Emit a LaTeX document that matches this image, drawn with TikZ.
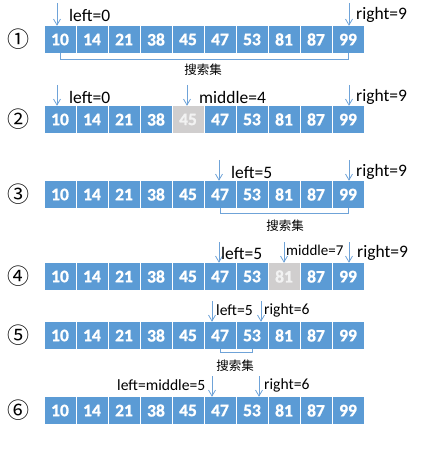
\documentclass[tikz,border=0pt]{standalone}
\usepackage{fontspec}
\setmainfont{Carlito}[BoldFont={Carlito Bold}]
\newfontfamily\cjk{Noto Sans CJK SC}
\newfontfamily\cellfont{Carlito Bold}[FakeBold=1.2]
\usetikzlibrary{arrows.meta}
\definecolor{cellblue}{HTML}{5B9BD5}
\definecolor{cellgray}{HTML}{D0CECE}
\definecolor{ptrblue}{HTML}{6FA3D8}
\begin{document}
\begin{tikzpicture}[x=1pt,y=-1pt,
  cell/.style={draw=none,fill=cellblue,minimum width=31pt,minimum height=27pt,inner sep=0pt,
    text=white,font=\cellfont\fontsize{17.5}{17.5}\selectfont},
  graycell/.style={cell,fill=cellgray,text=white!95!black},
  ptr/.style={draw=ptrblue,line width=0.8pt,-{Straight Barb[length=6pt,width=7pt]}},
  brk/.style={draw=ptrblue,line width=0.8pt},
  lbl/.style={anchor=west,inner sep=0pt,font=\fontsize{17.5}{17.5}\selectfont},
  lbls/.style={anchor=west,inner sep=0pt,font=\fontsize{15.6}{15.6}\selectfont},
  setlbl/.style={inner sep=0pt,font=\cjk\fontsize{12.5}{12.5}\selectfont},
  num/.style={inner sep=0pt,font=\cjk\fontsize{22}{22}\selectfont}]
\useasboundingbox (0,0) rectangle (420,454);
% rows
\def\vals{10,14,21,38,45,47,53,81,87,99}
\foreach \r/\yc in {1/39.5,2/119.5,3/194.5,4/276.5,5/335.5,6/410.5}{
  \foreach \v [count=\i from 0] in \vals {
    \node[cell] (c\r-\i) at (60+32*\i,\yc) {\v};
  }
}
% gray cells
\node[graycell] at (c2-4) {45};
\node[graycell] at (c4-7) {81};
% circled numbers
\node[num] (n1) at (18,39.5) {①};
\node[num] (n2) at (18,119.5) {②};
\node[num] (n3) at (18,194.5) {③};
\node[num] (n4) at (18,276.5) {④};
\node[num] (n5) at (18,335.5) {⑤};
\node[num] (n6) at (18,410.5) {⑥};
% row 1
\coordinate (p1l) at (57,3);
\coordinate (p1r) at (349,3);
\draw[ptr] (p1l) -- ([xshift=-3pt]c1-0.north);
\draw[ptr] (p1r) -- ([xshift=1pt]c1-9.north);
\node[lbl] (t1l) at (69,15) {left=0};
\node[lbl] (t1r) at (356,15) {right=9};
\draw[brk] (c1-0.south) -- ++(0,6) -| (c1-9.south);
\node[setlbl] (s1) at (203,70) {搜索集};
% row 2
\coordinate (p2l) at (57,85);
\coordinate (p2m) at (187,85);
\coordinate (p2r) at (349,85);
\draw[ptr] (p2l) -- ([xshift=-3pt]c2-0.north);
\draw[ptr] (p2m) -- ([xshift=-1pt]c2-4.north);
\draw[ptr] (p2r) -- ([xshift=1pt]c2-9.north);
\node[lbl] (t2l) at (69,97) {left=0};
\node[lbl] (t2m) at (199,97) {middle=4};
\node[lbl] (t2r) at (356,97) {right=9};
% row 3
\coordinate (p3l) at (219,160);
\coordinate (p3r) at (349,160);
\draw[ptr] (p3l) -- ([xshift=-1pt]c3-5.north);
\draw[ptr] (p3r) -- ([xshift=1pt]c3-9.north);
\node[lbl] (t3l) at (231,172) {left=5};
\node[lbl] (t3r) at (356,172) {right=9};
\draw[brk] (c3-5.south) -- ++(0,5) -| (c3-9.south);
\node[setlbl] (s3) at (285,226) {搜索集};
% row 4
\coordinate (p4l) at (219,242);
\coordinate (p4m) at (284,242);
\coordinate (p4r) at (349,242);
\draw[ptr] (p4l) -- ([xshift=-1pt]c4-5.north);
\draw[ptr] (p4m) -- (c4-7.north);
\draw[ptr] (p4r) -- ([xshift=1pt]c4-9.north);
\node[lbl] (t4l) at (221,253) {left=5};
\node[anchor=west,inner sep=0pt,font=\fontsize{15}{15}\selectfont] (t4m) at (286,250) {middle=7};
\node[lbl] (t4r) at (357,253) {right=9};
% row 5
\coordinate (p5l) at (212,301);
\coordinate (p5r) at (261,301);
\draw[ptr] (p5l) -- ([xshift=-8pt]c5-5.north);
\draw[ptr] (p5r) -- ([xshift=9pt]c5-6.north);
\node[lbls] (t5l) at (216,310) {left=5};
\node[lbls] (t5r) at (264,310) {right=6};
\draw[brk] (c5-5.south) -- ++(0,3.5) -| (c5-6.south);
\node[setlbl] (s5) at (235,366) {搜索集};
% row 6
\coordinate (p6l) at (212,376);
\coordinate (p6r) at (259,376);
\draw[ptr] (p6l) -- ([xshift=-8pt]c6-5.north);
\draw[ptr] (p6r) -- ([xshift=7pt]c6-6.north);
\node[lbls] (t6l) at (117,385) {left=middle=5};
\node[lbls] (t6r) at (264,385) {right=6};
\end{tikzpicture}
\end{document}
